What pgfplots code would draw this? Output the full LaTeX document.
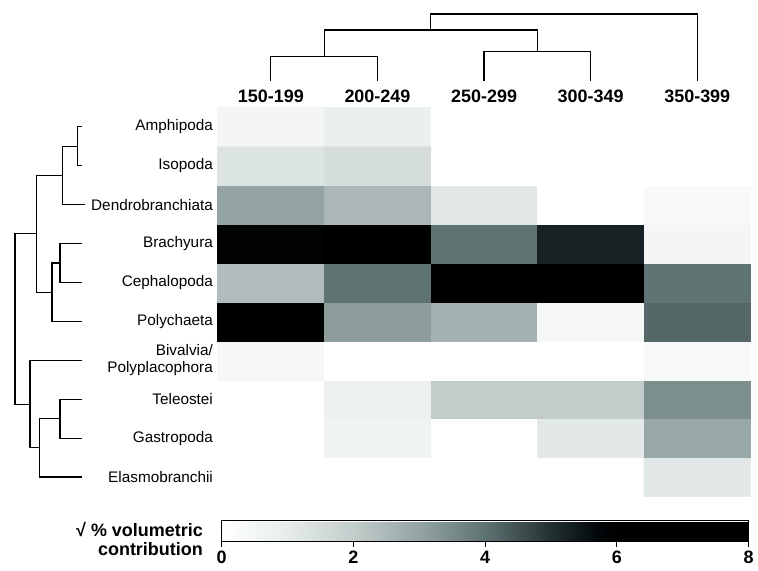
\documentclass[border=0pt]{standalone}
\usepackage{fontspec}
\setmainfont{Liberation Sans}
\usepackage{pgfplots}
\pgfplotsset{compat=1.18}
\pgfplotstableread{
x y c
0 0 0
1 0 0
2 0 0
3 0 0
4 0 1.12
0 1 0
1 1 0.64
2 1 0
3 1 1.09
4 1 2.91
0 2 0
1 2 0.77
2 2 2.02
3 2 2.02
4 2 3.44
0 3 0.36
1 3 0
2 3 0
3 3 0
4 3 0.30
0 4 6.8
1 4 3.14
2 4 2.67
3 4 0.40
4 4 4.17
0 5 2.40
1 5 4.00
2 5 7.0
3 5 7.0
4 5 3.96
0 6 5.9
1 6 6.5
2 6 4.00
3 6 5.26
4 6 0.45
0 7 3.00
1 7 2.53
2 7 1.12
3 7 0
4 7 0.27
0 8 1.28
1 8 1.47
2 8 0
3 8 0
4 8 0
0 9 0.45
1 9 0.82
2 9 0
3 9 0
4 9 0
}\heat
\begin{document}
\begin{tikzpicture}
\begin{axis}[
  name=hm,
  scale only axis, width=400.5pt, height=292.5pt,
  xmin=-0.5, xmax=4.5, ymin=-0.5, ymax=9.5,
  clip=false,
  axis line style={draw=none},
  major tick length=0pt,
  tick style={draw=none},
  xtick={0,...,4},
  xticklabels={150-199,200-249,250-299,300-349,350-399},
  xticklabel pos=upper,
  xticklabel style={font=\bfseries\fontsize{13.5}{15}\selectfont},
  ytick={0,...,9},
  yticklabels={Elasmobranchii,Gastropoda,Teleostei,{Bivalvia/\\Polyplacophora},Polychaeta,Cephalopoda,Brachyura,Dendrobranchiata,Isopoda,Amphipoda},
  yticklabel style={font=\fontsize{11.5}{13}\selectfont, align=right},
  colormap={gm}{rgb255(0cm)=(255,255,255) rgb255(1cm)=(230,236,236) rgb255(2cm)=(195,205,204) rgb255(3cm)=(147,164,163) rgb255(4cm)=(95,114,114) rgb255(5cm)=(35,48,50) rgb255(5.7cm)=(2,8,10) rgb255(6cm)=(0,0,0) rgb255(8cm)=(0,0,0)},
  point meta min=0, point meta max=8,
  colorbar horizontal,
  colorbar style={
    at={(parent axis.south west)}, anchor=north west,
    xshift=3pt, yshift=-9.4pt,
    scale only axis, width=396pt, height=15.75pt,
    xtick={0,2,4,6,8}, xticklabels={0,2,4,6,8},
    ytick=\empty,
    xticklabel pos=lower, xtick pos=lower,
    tick align=outside, major tick length=4pt,
    tick style={draw=black, line width=0.8pt},
    axis line style={draw=black, line width=0.8pt},
    xticklabel style={font=\bfseries\fontsize{13.5}{15}\selectfont},
  },
]
\addplot[matrix plot*, mesh/cols=5, point meta=explicit] table[x=x, y=y, meta=c] {\heat};
% top dendrogram
\addplot[black, line width=0.9pt, forget plot] coordinates {(0,10.179) (0,10.795) (1,10.795) (1,10.179)};
\addplot[black, line width=0.9pt, forget plot] coordinates {(2,10.179) (2,10.923) (3,10.923) (3,10.179)};
\addplot[black, line width=0.9pt, forget plot] coordinates {(0.5,10.795) (0.5,11.487) (2.5,11.487) (2.5,10.923)};
\addplot[black, line width=0.9pt, forget plot] coordinates {(1.5,11.487) (1.5,11.897) (4,11.897) (4,10.179)};
% left dendrogram
\addplot[black, line width=0.9pt, forget plot] coordinates {(-1.773,9) (-1.811,9) (-1.811,8) (-1.773,8)};
\addplot[black, line width=0.9pt, forget plot] coordinates {(-1.811,8.5) (-1.951,8.5) (-1.951,7) (-1.745,7)};
\addplot[black, line width=0.9pt, forget plot] coordinates {(-1.773,6) (-1.979,6) (-1.979,5) (-1.773,5)};
\addplot[black, line width=0.9pt, forget plot] coordinates {(-1.979,5.5) (-2.054,5.5) (-2.054,4) (-1.773,4)};
\addplot[black, line width=0.9pt, forget plot] coordinates {(-1.951,7.75) (-2.195,7.75) (-2.195,4.75) (-2.054,4.75)};
\addplot[black, line width=0.9pt, forget plot] coordinates {(-1.773,2) (-1.979,2) (-1.979,1) (-1.773,1)};
\addplot[black, line width=0.9pt, forget plot] coordinates {(-1.979,1.5) (-2.167,1.5) (-2.167,0) (-1.773,0)};
\addplot[black, line width=0.9pt, forget plot] coordinates {(-1.773,3) (-2.260,3) (-2.260,0.75) (-2.167,0.75)};
\addplot[black, line width=0.9pt, forget plot] coordinates {(-2.195,6.25) (-2.401,6.25) (-2.401,1.875) (-2.260,1.875)};
\node[anchor=east, align=right, font=\bfseries\fontsize{13.5}{15}\selectfont] at (axis cs:-0.594,-1.59) {√ \% volumetric\\contribution};
\path (axis cs:-2.541,12.256) rectangle (axis cs:4.556,-2.410);
\end{axis}
\end{tikzpicture}
\end{document}
